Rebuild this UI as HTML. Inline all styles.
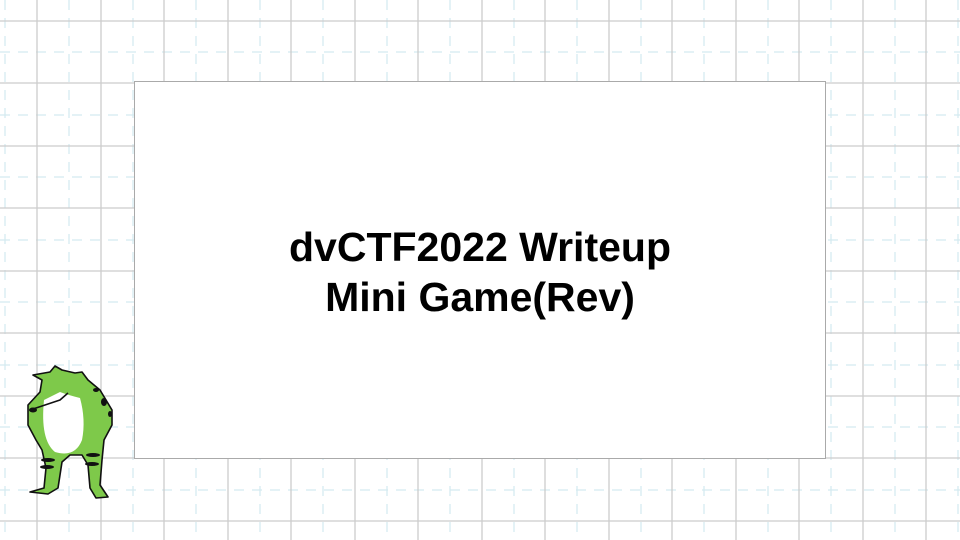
<!DOCTYPE html>
<html><head><meta charset="utf-8"><style>
html,body{margin:0;padding:0;width:960px;height:540px;overflow:hidden;background:#fff;}
svg{position:absolute;left:0;top:0;}
.t{position:absolute;left:134px;width:692px;text-align:center;font-family:"Liberation Sans",sans-serif;font-weight:bold;font-size:41px;color:#000;line-height:50px;}
</style></head><body>
<svg width="960" height="540">
<g stroke="#d3eaf0" stroke-width="1.2" stroke-dasharray="10,8">
<line x1="5" y1="0" x2="5" y2="540"/><line x1="69" y1="0" x2="69" y2="540"/><line x1="133" y1="0" x2="133" y2="540"/><line x1="196" y1="0" x2="196" y2="540"/><line x1="260" y1="0" x2="260" y2="540"/><line x1="323" y1="0" x2="323" y2="540"/><line x1="387" y1="0" x2="387" y2="540"/><line x1="450" y1="0" x2="450" y2="540"/><line x1="514" y1="0" x2="514" y2="540"/><line x1="577" y1="0" x2="577" y2="540"/><line x1="641" y1="0" x2="641" y2="540"/><line x1="704" y1="0" x2="704" y2="540"/><line x1="768" y1="0" x2="768" y2="540"/><line x1="831" y1="0" x2="831" y2="540"/><line x1="895" y1="0" x2="895" y2="540"/><line x1="958" y1="0" x2="958" y2="540"/>
<line y1="52" x1="0" y2="52" x2="960"/><line y1="115" x1="0" y2="115" x2="960"/><line y1="177" x1="0" y2="177" x2="960"/><line y1="240" x1="0" y2="240" x2="960"/><line y1="302" x1="0" y2="302" x2="960"/><line y1="365" x1="0" y2="365" x2="960"/><line y1="427" x1="0" y2="427" x2="960"/><line y1="490" x1="0" y2="490" x2="960"/>
</g>
<g stroke="#cccccc" stroke-width="1.3">
<line x1="37" y1="0" x2="37" y2="540"/><line x1="101" y1="0" x2="101" y2="540"/><line x1="164" y1="0" x2="164" y2="540"/><line x1="228" y1="0" x2="228" y2="540"/><line x1="291" y1="0" x2="291" y2="540"/><line x1="355" y1="0" x2="355" y2="540"/><line x1="418" y1="0" x2="418" y2="540"/><line x1="482" y1="0" x2="482" y2="540"/><line x1="545" y1="0" x2="545" y2="540"/><line x1="609" y1="0" x2="609" y2="540"/><line x1="672" y1="0" x2="672" y2="540"/><line x1="736" y1="0" x2="736" y2="540"/><line x1="799" y1="0" x2="799" y2="540"/><line x1="863" y1="0" x2="863" y2="540"/><line x1="926" y1="0" x2="926" y2="540"/>
<line y1="21" x1="0" y2="21" x2="960"/><line y1="83" x1="0" y2="83" x2="960"/><line y1="146" x1="0" y2="146" x2="960"/><line y1="208" x1="0" y2="208" x2="960"/><line y1="271" x1="0" y2="271" x2="960"/><line y1="333" x1="0" y2="333" x2="960"/><line y1="396" x1="0" y2="396" x2="960"/><line y1="458" x1="0" y2="458" x2="960"/><line y1="521" x1="0" y2="521" x2="960"/>
</g>
<rect x="134.5" y="81.5" width="691" height="377" fill="#fff" stroke="#aaaaaa" stroke-width="1"/>
<!-- frog -->
<g stroke="#111" stroke-width="1.6" stroke-linejoin="round">
<path d="M33,375 L50,372 L55,366 L62,370 L75,373 L82,372 L88,380 L100,390 L112,410 L112,425 L104,440 L102,460 L100,485 L108,497 L96,498 L90,488 L88,465 L82,455 L70,455 L62,462 L58,488 L48,494 L30,492 L44,488 L46,468 L42,450 L36,440 L28,425 L28,405 L40,392 L42,380 Z" fill="#7ec94a"/>
<path d="M44,400 Q40,440 55,452 Q75,458 82,440 Q86,420 80,398 Q68,395 60,392 Z" fill="#fff" stroke="none"/>
<path d="M30,410 L60,400 L68,393" fill="none"/>
</g>
<g fill="#111">
<ellipse cx="33" cy="410" rx="4" ry="2.5"/><ellipse cx="48" cy="460" rx="7" ry="2"/><ellipse cx="47" cy="467" rx="7" ry="2"/><ellipse cx="93" cy="455" rx="7" ry="2"/><ellipse cx="92" cy="464" rx="7" ry="2"/><ellipse cx="104" cy="402" rx="3" ry="4"/><ellipse cx="110" cy="414" rx="2" ry="3"/><ellipse cx="96" cy="390" rx="3" ry="2"/>
</g>
</svg>
<div class="t" style="top:222px;">dvCTF2022 Writeup<br>Mini Game(Rev)</div>
</body></html>
